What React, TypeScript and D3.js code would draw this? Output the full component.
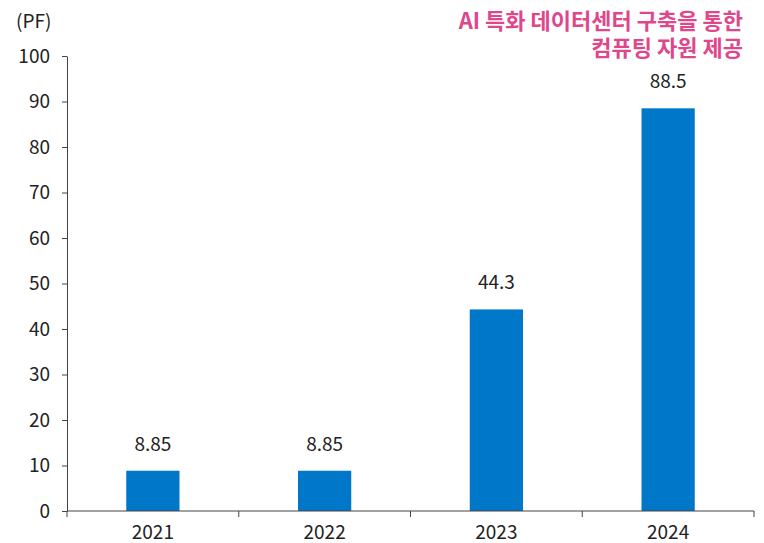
import { useEffect, useRef } from 'react';
import * as d3 from 'd3';

const years = ['2021', '2022', '2023', '2024'];
const values = [8.85, 8.85, 44.3, 88.5];
const valueLabels = ['8.85', '8.85', '44.3', '88.5'];
const yTicks = [0, 10, 20, 30, 40, 50, 60, 70, 80, 90, 100];
const noteLines = ['AI 특화 데이터센터 구축을 통한', '컴퓨팅 자원 제공'];

const FONT = '"Noto Sans CJK KR", "Noto Sans", sans-serif';

export default function App() {
  const ref = useRef<SVGSVGElement>(null);

  useEffect(() => {
    const width = 764;
    const height = 543;
    const margin = { top: 56, right: 10, bottom: 32, left: 67 };

    const svg = d3.select(ref.current);
    svg.selectAll('*').remove();

    const x = d3.scaleBand()
      .domain(years)
      .range([margin.left, width - margin.right])
      .paddingInner(0.69)
      .paddingOuter(0.345);

    const y = d3.scaleLinear()
      .domain([0, 100])
      .range([height - margin.bottom, margin.top]);

    // bars
    svg.append('g')
      .selectAll('rect')
      .data(values)
      .join('rect')
      .attr('x', (_, i) => x(years[i])!)
      .attr('y', d => y(d))
      .attr('width', x.bandwidth())
      .attr('height', d => y(0) - y(d))
      .attr('fill', '#0077C8');

    // value labels
    svg.append('g')
      .selectAll('text')
      .data(values)
      .join('text')
      .attr('x', (_, i) => x(years[i])! + x.bandwidth() / 2)
      .attr('y', d => y(d) - 20)
      .attr('text-anchor', 'middle')
      .attr('font-family', FONT)
      .attr('font-size', 19)
      .attr('fill', '#222')
      .text((_, i) => valueLabels[i]);

    // y axis
    const yAxis = svg.append('g')
      .attr('transform', `translate(${margin.left},0)`)
      .call(d3.axisLeft(y).tickValues(yTicks).tickSize(5).tickPadding(12).tickSizeOuter(0));
    yAxis.select('.domain').attr('stroke', '#444');
    yAxis.selectAll('.tick line').attr('stroke', '#444');
    yAxis.selectAll('.tick text')
      .attr('font-family', FONT)
      .attr('font-size', 19)
      .attr('fill', '#222');

    // x axis (ticks sit on the band edges)
    const step = x.step();
    const xAxis = svg.append('g')
      .attr('transform', `translate(0,${y(0)})`);
    xAxis.append('line')
      .attr('x1', margin.left)
      .attr('x2', width - margin.right)
      .attr('stroke', '#444');
    xAxis.selectAll('line.tk')
      .data(d3.range(years.length + 1))
      .join('line')
      .attr('class', 'tk')
      .attr('x1', i => margin.left + i * step)
      .attr('x2', i => margin.left + i * step)
      .attr('y1', 0)
      .attr('y2', 6)
      .attr('stroke', '#444');
    xAxis.selectAll('text')
      .data(years)
      .join('text')
      .attr('x', d => x(d)! + x.bandwidth() / 2)
      .attr('y', 28)
      .attr('text-anchor', 'middle')
      .attr('font-family', FONT)
      .attr('font-size', 19)
      .attr('fill', '#222')
      .text(d => d);

    // unit
    svg.append('text')
      .attr('x', 16)
      .attr('y', 28)
      .attr('font-family', FONT)
      .attr('font-size', 19)
      .attr('fill', '#222')
      .text('(PF)');

    // annotation
    svg.append('g')
      .selectAll('text')
      .data(noteLines)
      .join('text')
      .attr('x', 743)
      .attr('y', (_, i) => 29 + i * 27)
      .attr('text-anchor', 'end')
      .attr('font-family', FONT)
      .attr('font-size', 22)
      .attr('font-weight', 'bold')
      .attr('fill', '#E0478A')
      .text(d => d);
  }, []);

  return (
    <svg
      ref={ref}
      width={764}
      height={543}
      style={{ position: 'absolute', left: 0, top: 0, background: '#fff' }}
    />
  );
}
